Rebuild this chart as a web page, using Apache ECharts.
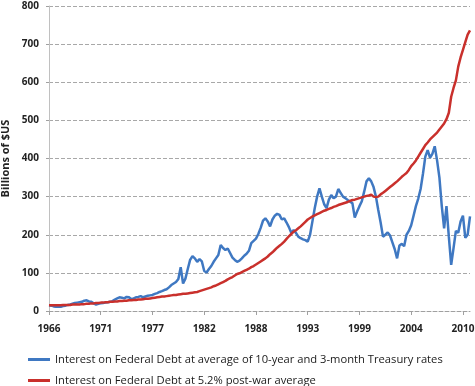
<!DOCTYPE html>
<html>
<head>
<meta charset="utf-8">
<script src="https://cdn.jsdelivr.net/npm/echarts@6/dist/echarts.min.js"></script>
<style>
html,body{margin:0;padding:0;background:#fff;}
#chart{width:475px;height:386px;}
</style>
</head>
<body>
<div id="chart"></div>
<script>
// Quarterly data, 1966 Q1 .. 2010 Q4
var startYear = 1966;
var endYear = 2010;
var tickLabels = ['1966','1971','1977','1982','1988','1993','1999','2004','2010'];
var yTicks = [0,100,200,300,400,500,600,700,800];
var seriesNames = [
  'Interest on Federal Debt at average of 10-year and 3-month Treasury rates',
  'Interest on Federal Debt at 5.2% post-war average'
];
var marketRate = [
  15,14,12,11, 11,11,13,14, 16,17,19,21, 22,23,24,27, 28,25,24,20,
  17,19,20,21, 22,23,24,26, 30,33,36,35, 33,37,36,31, 33,36,37,39,
  36,38,40,41, 42,45,47,50, 52,55,57,62, 68,72,76,84, 115,72,85,110,
  134,144,138,129, 136,130,105,101, 110,118,129,138, 147,173,165,160, 164,152,140,134,
  129,132,138,145, 150,158,178,184, 190,202,218,237, 243,235,222,240, 250,255,252,240,
  243,232,220,205, 212,205,195,191, 188,186,182,200, 235,270,300,322, 300,280,270,292,
  304,296,300,320, 310,300,296,291, 287,283,245,261, 275,288,313,340, 348,340,325,300,
  265,232,195,200, 206,198,180,162, 138,172,176,170, 200,210,225,250, 275,295,320,360,
  405,422,402,412, 432,395,350,275, 217,275,195,121, 165,210,205,235, 250,192,200,248
];
var postWarAvg = [
  15,15,15,15, 15,15,16,16, 16,16,17,17, 17,17,18,18, 19,19,20,20,
  21,21,22,22, 23,23,24,24, 25,25,26,26, 27,27,28,28, 29,29,30,30,
  31,32,32,33, 34,35,36,37, 38,38,39,40, 41,42,42,43, 44,45,45,46,
  47,48,49,50, 52,54,56,58, 60,62,65,67, 70,73,76,79, 83,86,89,93,
  97,99,102,105, 108,111,115,118, 122,126,130,134, 138,143,149,154, 160,166,171,176,
  182,189,196,202, 208,212,217,222, 228,234,240,244, 248,251,254,257, 260,263,265,268,
  270,273,275,278, 280,282,284,286, 289,291,292,294, 296,298,300,302, 303,305,300,299,
  300,306,310,315, 320,325,330,335, 340,346,352,357, 362,370,380,387, 395,405,415,425,
  435,442,450,456, 462,468,476,484, 492,503,520,562, 585,605,641,665, 685,705,725,736
];

var categories = [];
for (var y = startYear; y <= endYear; y++) {
  for (var q = 1; q <= 4; q++) categories.push(y + ' Q' + q);
}
var labelEvery = 22;

var chart = echarts.init(document.getElementById('chart'), null, {renderer: 'canvas'});
var font = '"Open Sans", "Noto Sans", sans-serif';
chart.setOption({
  animation: false,
  backgroundColor: '#ffffff',
  textStyle: {fontFamily: font},
  grid: {left: 49, right: 5, top: 6, bottom: 75, containLabel: false, outerBoundsMode: 'none'},
  legend: {
    orient: 'vertical',
    left: 28,
    top: 354,
    height: 40,
    padding: 0,
    icon: 'rect',
    itemWidth: 22,
    itemHeight: 3,
    itemGap: 10,
    textStyle: {fontFamily: font, fontSize: 11.2, color: '#1a1a1a'},
    data: seriesNames
  },
  xAxis: {
    type: 'category',
    data: categories,
    boundaryGap: false,
    axisLine: {lineStyle: {color: '#a0a0a0', type: 'dashed', width: 1}},
    axisTick: {show: true, interval: labelEvery - 1, length: 4, lineStyle: {color: '#a0a0a0'}},
    axisLabel: {
      interval: labelEvery - 1,
      margin: 13,
      fontFamily: font, fontSize: 10, fontWeight: 'bold', color: '#222',
      formatter: function (v, i) { return tickLabels[Math.round(i / labelEvery)]; }
    },
    splitLine: {show: false}
  },
  yAxis: {
    type: 'value',
    min: yTicks[0],
    max: yTicks[yTicks.length - 1],
    interval: 100,
    name: 'Billions of $US',
    nameLocation: 'middle',
    nameGap: 29,
    nameTextStyle: {fontFamily: font, fontSize: 11, fontWeight: 'bold', color: '#222'},
    axisLine: {show: true, lineStyle: {color: '#c0c0c0', width: 1}},
    axisTick: {show: true, length: 3, lineStyle: {color: '#a0a0a0'}},
    axisLabel: {margin: 10, fontFamily: font, fontSize: 10, fontWeight: 'bold', color: '#222'},
    splitLine: {show: true, lineStyle: {color: '#a8a8a8', type: 'dashed', width: 1}}
  },
  series: [
    {
      name: seriesNames[0],
      type: 'line',
      data: marketRate,
      symbol: 'none',
      lineStyle: {color: '#3f78c2', width: 2.5},
      itemStyle: {color: '#3f78c2'}
    },
    {
      name: seriesNames[1],
      type: 'line',
      data: postWarAvg,
      symbol: 'none',
      lineStyle: {color: '#c9302c', width: 2.5},
      itemStyle: {color: '#c9302c'}
    }
  ]
});
</script>
</body>
</html>
